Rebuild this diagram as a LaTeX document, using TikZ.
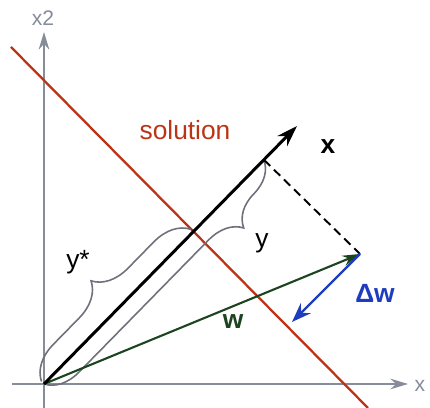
\documentclass[tikz,border=0pt]{standalone}
\usepackage{fontspec}
\setmainfont{Liberation Sans}
\usetikzlibrary{arrows.meta, calc, intersections, decorations.pathreplacing}
\definecolor{solred}{RGB}{188,52,22}
\definecolor{wgreen}{RGB}{28,68,32}
\definecolor{dwblue}{RGB}{30,60,190}
\definecolor{axisgray}{RGB}{135,140,155}
\definecolor{bracegray}{RGB}{110,112,122}
\tikzset{
  axis/.style={-{Stealth[length=10pt,width=6pt]}, color=axisgray, line width=1pt},
  vecx/.style={-{Stealth[length=12pt,width=8pt]}, line width=1.7pt, color=black},
  vecw/.style={-{Stealth[length=10pt,width=6pt]}, line width=1.2pt, color=wgreen},
  vecdw/.style={-{Stealth[length=11pt,width=8pt]}, line width=1.3pt, color=dwblue},
  solline/.style={line width=1.3pt, color=solred},
  projline/.style={dashed, line width=1.1pt, dash pattern=on 5pt off 3pt},
  bracel/.style={decorate, color=bracegray, line width=0.9pt},
  lbl/.style={font=\fontsize{15}{18}\selectfont},
  axlbl/.style={font=\fontsize{12}{14}\selectfont, color=axisgray}
}

\begin{document}
\begin{tikzpicture}[x=0.02cm, y=0.02cm]
  \useasboundingbox (-44,-24) rectangle (386,384);

  % axes
  \draw[axis] (-32,0) -- (364,0);
  \draw[axis] (0,-24) -- (0,352);
  \node[axlbl] (xone) at (376,-2) {x};
  \node[axlbl] (xtwo) at (-1,366) {x2};

  % points
  \coordinate (O) at (0,0);
  \coordinate (X) at (253,258);
  \coordinate (W) at (316,130);
  \coordinate (D) at (248,62);
  \coordinate (P) at ($(O)!(W)!(X)$);

  % solution line
  \draw[solline, name path=sol] (-33,337) -- (324,-24);
  \path[name path=xdir] (O) -- (X);
  \path[name intersections={of=sol and xdir, by=C}];
  \node[lbl, color=solred] (soltxt) at (141,254) {solution};

  % braces
  \draw[bracel, decoration={brace, amplitude=19pt, aspect=0.2}] (P) -- (O);
  \draw[bracel, decoration={brace, amplitude=20pt, aspect=0.5, raise=2pt}] (O) -- (C);
  \node[lbl] (ylbl) at (218,141) {y};
  \node[lbl] (ystar) at (34,122) {y*};

  % vectors
  \draw[projline] (P) -- (W);
  \draw[vecw] (O) -- (W);
  \draw[vecdw] (W) -- (D);
  \draw[vecx] (O) -- (X);
  \node[lbl, font=\fontsize{15}{18}\selectfont\bfseries] (xlbl) at (284,237) {x};
  \node[lbl, font=\fontsize{15}{18}\selectfont\bfseries, color=wgreen] (wlbl) at (189,62) {w};
  \node[lbl, font=\fontsize{15}{18}\selectfont\bfseries, color=dwblue] (dwlbl) at (331,91) {Δw};
\end{tikzpicture}
\end{document}
